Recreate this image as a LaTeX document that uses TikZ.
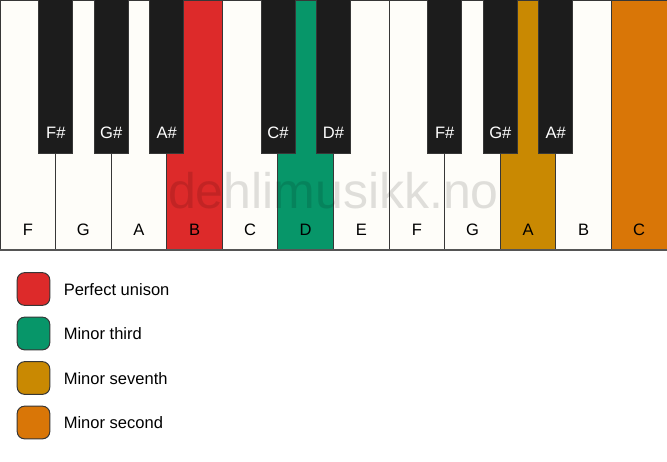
\documentclass[tikz,border=0pt]{standalone}
\usepackage{fontspec}
\setmainfont{Liberation Sans}
\definecolor{keywhite}{RGB}{254,253,249}
\definecolor{keyblack}{RGB}{28,28,28}
\definecolor{keyedge}{RGB}{55,55,55}
\definecolor{unisonred}{RGB}{221,42,42}
\definecolor{thirdgreen}{RGB}{7,150,105}
\definecolor{seventhochre}{RGB}{201,137,2}
\definecolor{secondorange}{RGB}{217,118,7}

\begin{document}
\begin{tikzpicture}[x=0.75pt,y=0.75pt,yscale=-1,xscale=1,
  whitekey/.style={draw=keyedge,line width=0.75pt,fill=keywhite},
  blackkey/.style={draw=keyedge,line width=0.5pt,fill=keyblack},
  whitelabel/.style={inner sep=0.75pt,font=\fontsize{12.4pt}{14pt}\selectfont},
  blacklabel/.style={inner sep=0.75pt,text=white,font=\fontsize{12.4pt}{14pt}\selectfont},
  legendbox/.style={draw=keyedge,line width=0.75pt,rounded corners=5.5pt,minimum width=24.5pt,minimum height=24.5pt,inner sep=0pt},
  legendtext/.style={anchor=west,inner sep=0.75pt,font=\fontsize{12.4pt}{14pt}\selectfont}]
\useasboundingbox (0,0) rectangle (667,461);

%White keys
\draw [whitekey] (0,0) rectangle (55.6,250);
\draw [whitekey] (55.6,0) rectangle (111.2,250);
\draw [whitekey] (111.2,0) rectangle (166.8,250);
\draw [whitekey,fill=unisonred] (166.8,0) rectangle (222.3,250);
\draw [whitekey] (222.3,0) rectangle (277.9,250);
\draw [whitekey,fill=thirdgreen] (277.9,0) rectangle (333.5,250);
\draw [whitekey] (333.5,0) rectangle (389.1,250);
\draw [whitekey] (389.1,0) rectangle (444.7,250);
\draw [whitekey] (444.7,0) rectangle (500.3,250);
\draw [whitekey,fill=seventhochre] (500.3,0) rectangle (555.8,250);
\draw [whitekey] (555.8,0) rectangle (611.4,250);
\draw [whitekey,fill=secondorange] (611.4,0) rectangle (667,250);
%Bottom edge
\draw [draw=keyedge!85,line width=1.5pt] (0,250) -- (667,250);

%Black keys
\draw [blackkey] (38.8,-1) rectangle (72.8,153);
\draw [blackkey] (94.2,-1) rectangle (128.2,153);
\draw [blackkey] (149.8,-1) rectangle (183.8,153);
\draw [blackkey] (260.9,-1) rectangle (294.9,153);
\draw [blackkey] (316.5,-1) rectangle (350.5,153);
\draw [blackkey] (427.7,-1) rectangle (461.7,153);
\draw [blackkey] (483.3,-1) rectangle (517.3,153);
\draw [blackkey] (538.8,-1) rectangle (572.8,153);

% Watermark
\node (mark) [inner sep=0pt,anchor=base,text=black,text opacity=0.12,font=\fontsize{37.5pt}{40pt}\selectfont] at (333.5,208) {dehlimusikk.no};

% Text Node
\node (fa) [whitelabel] at (27.8,230) {F};
\node (ga) [whitelabel] at (83.4,230) {G};
\node (aa) [whitelabel] at (139,230) {A};
\node (ba) [whitelabel] at (194.6,230) {B};
\node (ca) [whitelabel] at (250.1,230) {C};
\node (da) [whitelabel] at (305.7,230) {D};
\node (ea) [whitelabel] at (361.3,230) {E};
\node (fb) [whitelabel] at (416.9,230) {F};
\node (gb) [whitelabel] at (472.5,230) {G};
\node (ab) [whitelabel] at (528.1,230) {A};
\node (bb) [whitelabel] at (583.6,230) {B};
\node (cb) [whitelabel] at (639.2,230) {C};
% Text Node
\node (fsa) [blacklabel] at (55.8,133) {F\#};
\node (gsa) [blacklabel] at (111.2,133) {G\#};
\node (asa) [blacklabel] at (166.8,133) {A\#};
\node (csa) [blacklabel] at (277.9,133) {C\#};
\node (dsa) [blacklabel] at (333.5,133) {D\#};
\node (fsb) [blacklabel] at (444.7,133) {F\#};
\node (gsb) [blacklabel] at (500.3,133) {G\#};
\node (asb) [blacklabel] at (555.8,133) {A\#};

%Legend
\node (unison) [legendbox,fill=unisonred] at (33.5,289) {};
\node (third) [legendbox,fill=thirdgreen] at (33.5,333.5) {};
\node (seventh) [legendbox,fill=seventhochre] at (33.5,378) {};
\node (second) [legendbox,fill=secondorange] at (33.5,422.5) {};
% Text Node
\node [legendtext] at (62.5,289.5) {Perfect unison};
\node [legendtext] at (62.5,334) {Minor third};
\node [legendtext] at (62.5,378.5) {Minor seventh};
\node [legendtext] at (62.5,423) {Minor second};

\end{tikzpicture}
\end{document}
